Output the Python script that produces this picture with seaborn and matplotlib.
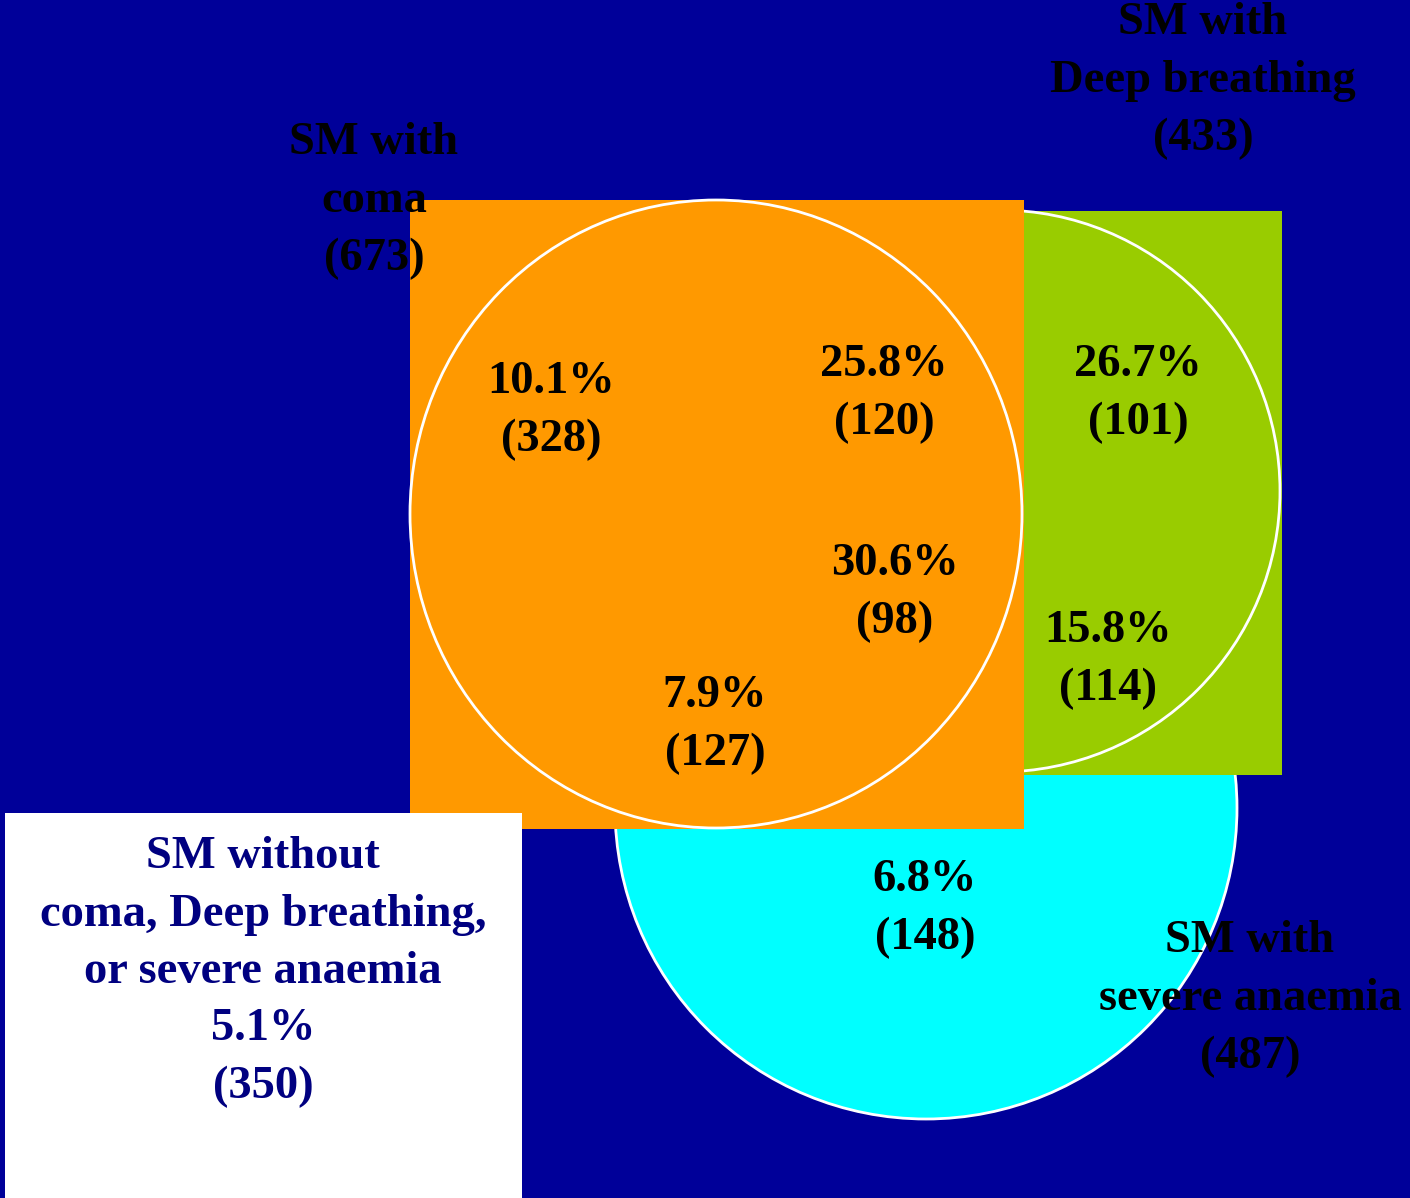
import matplotlib
matplotlib.use("Agg")
import matplotlib.pyplot as plt
from matplotlib.patches import Rectangle, Ellipse
import seaborn as sns

# ---- data ----
region_pct = ["10.1%", "25.8%", "26.7%", "30.6%", "15.8%", "7.9%", "6.8%"]
region_n = [328, 120, 101, 98, 114, 127, 148]
set_names = [["SM with", "coma"], ["SM with", "Deep breathing"], ["SM with", "severe anaemia"]]
set_totals = [673, 433, 487]
none_lines = ["SM without", "coma, Deep breathing,", "or severe anaemia"]
none_pct = "5.1%"
none_n = 350

# ---- layout (pixel coordinates) ----
W, H = 1410, 1198
region_xy = [(551, 407), (884, 390), (1138, 390), (895, 589), (1108, 656), (715, 721), (925, 905)]
set_xy = [(374, 197), (1203, 77), (1250, 995)]
none_xy = (263, 968)
LS = 57.5
FS = 33.5
DY = 4

BG = "#000099"
ORANGE = "#FF9900"
GREEN = "#99CC00"
CYAN = "#00FFFF"
NAVY = "#000080"

sns.set_theme(style="white")
plt.rcParams["font.family"] = ["Liberation Serif", "DejaVu Serif"]

fig = plt.figure(figsize=(W / 100, H / 100), dpi=100)
fig.patch.set_facecolor(BG)
ax = fig.add_axes([0, 0, 1, 1])
ax.set_facecolor(BG)
ax.set_xlim(0, W)
ax.set_ylim(H, 0)
ax.set_axis_off()

# cyan (severe anaemia) circle
ax.add_patch(Ellipse((926, 808), 622, 622, facecolor=CYAN, edgecolor="white", lw=2, zorder=1))
# green (deep breathing) rect + circle
ax.add_patch(Rectangle((1024, 211), 258, 564, facecolor=GREEN, edgecolor="none", zorder=2))
ax.add_patch(Ellipse((999, 491), 562, 562, facecolor=GREEN, edgecolor="white", lw=2, zorder=3))
# orange (coma) rect + circle
ax.add_patch(Rectangle((410, 200), 614, 629, facecolor=ORANGE, edgecolor="none", zorder=4))
ax.add_patch(Ellipse((716, 514), 612, 628, facecolor=ORANGE, edgecolor="white", lw=2, zorder=5))
# white box
ax.add_patch(Rectangle((5, 813), 517, 390, facecolor="white", edgecolor="none", zorder=6))


def block(x, yc, lines, color="black"):
    n = len(lines)
    for i, s in enumerate(lines):
        y = yc + (i - (n - 1) / 2) * LS + DY
        ax.text(x, y, s, ha="center", va="center", fontsize=FS, fontweight="bold",
                color=color, zorder=10)


for (x, y), p, n in zip(region_xy, region_pct, region_n):
    block(x, y, [p, f"({n})"])

for (x, y), name, tot in zip(set_xy, set_names, set_totals):
    block(x, y, name + [f"({tot})"])

block(none_xy[0], none_xy[1], none_lines + [none_pct, f"({none_n})"], color=NAVY)

fig.savefig("out.png", dpi=100, facecolor=BG)
